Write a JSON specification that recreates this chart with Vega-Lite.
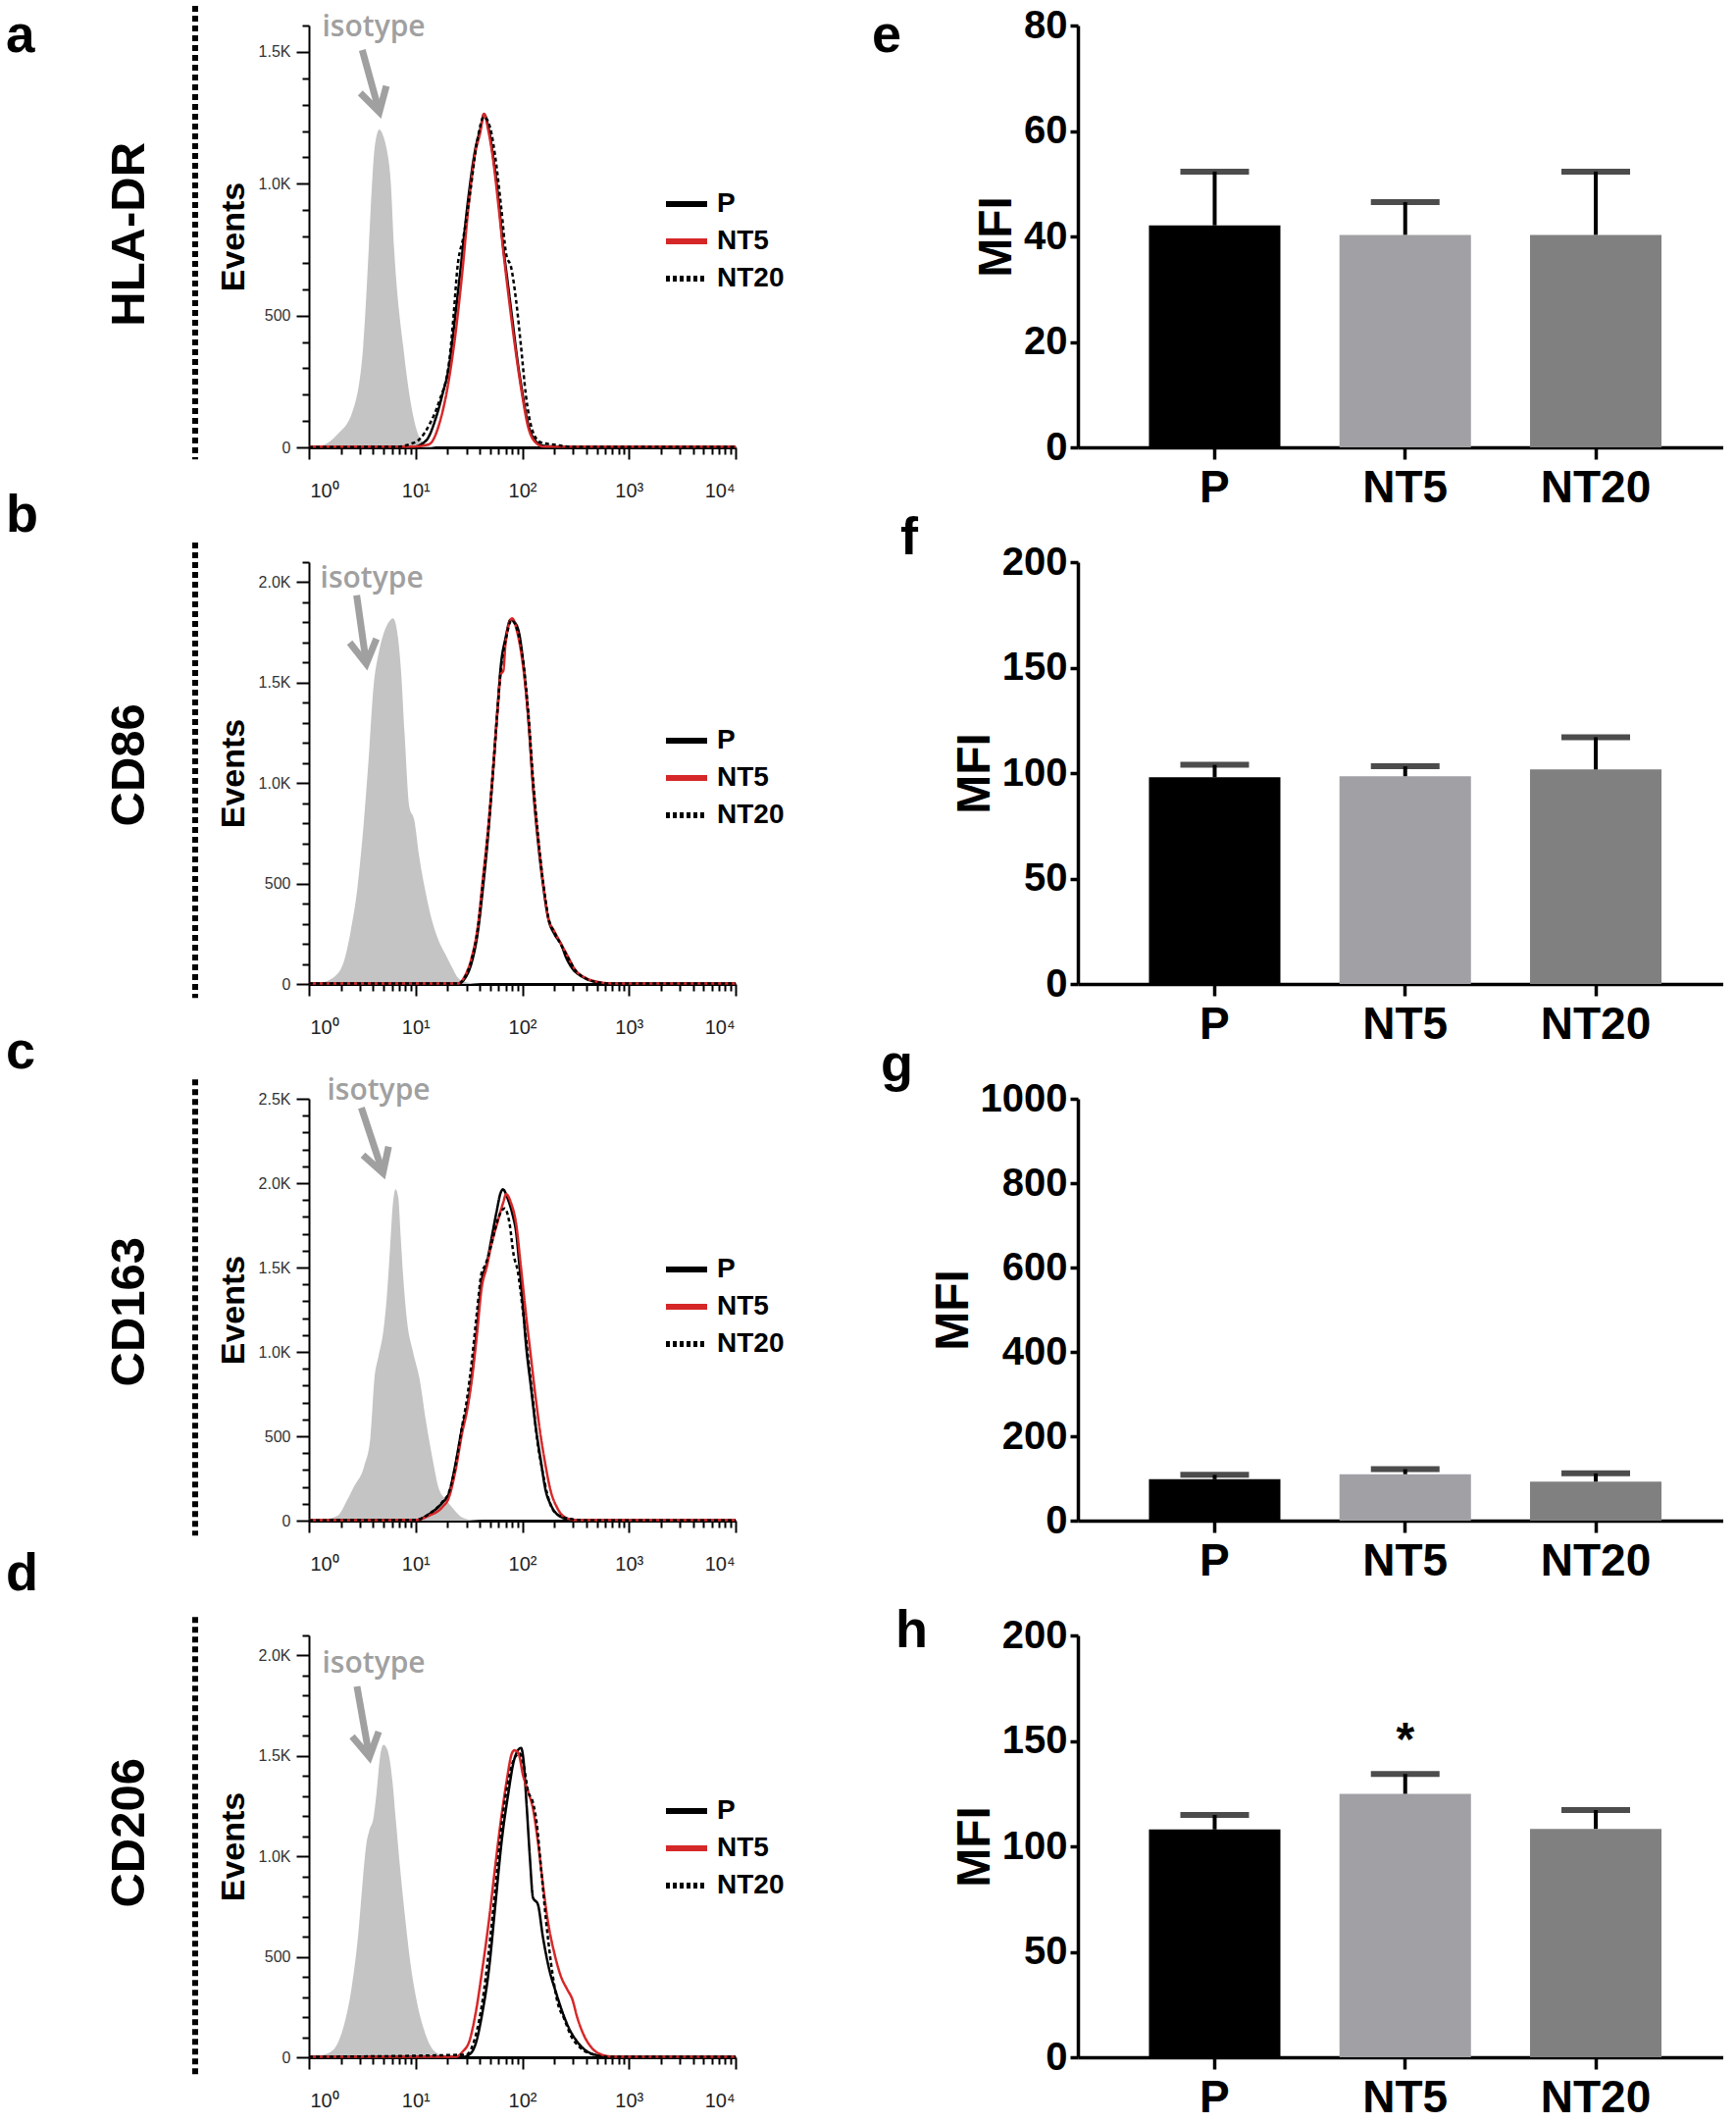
{
"$schema": "https://vega.github.io/schema/vega-lite/v6.json",
"padding": {"left": 5, "top": 3, "right": 0, "bottom": 0},
"background": "white",
"config": {"view": {"stroke": null}, "axis": {"grid": false}},
"datasets": {
"ha": [
{"series":"isotype","fl":1,"ev":0},{"series":"isotype","fl":1.31,"ev":6},{"series":"isotype","fl":1.86,"ev":50},{"series":"isotype","fl":2.56,"ev":136},{"series":"isotype","fl":3.23,"ev":385},{"series":"isotype","fl":3.64,"ev":757},{"series":"isotype","fl":3.91,"ev":1005},{"series":"isotype","fl":4.11,"ev":1129},{"series":"isotype","fl":4.57,"ev":1206},{"series":"isotype","fl":5.0,"ev":1179},{"series":"isotype","fl":5.37,"ev":1129},{"series":"isotype","fl":5.85,"ev":1005},{"series":"isotype","fl":6.28,"ev":757},{"series":"isotype","fl":7.03,"ev":509},{"series":"isotype","fl":7.64,"ev":385},{"series":"isotype","fl":8.32,"ev":261},{"series":"isotype","fl":9.31,"ev":136},{"series":"isotype","fl":10.9,"ev":37},{"series":"isotype","fl":12.5,"ev":12},{"series":"isotype","fl":15.5,"ev":0},
{"series":"P","fl":1,"ev":2},{"series":"P","fl":9.45,"ev":2},{"series":"P","fl":12.5,"ev":25},{"series":"P","fl":15.5,"ev":112},{"series":"P","fl":17.8,"ev":199},{"series":"P","fl":20.6,"ev":310},{"series":"P","fl":23.7,"ev":509},{"series":"P","fl":27.3,"ev":732},{"series":"P","fl":31.4,"ev":955},{"series":"P","fl":36.2,"ev":1129},{"series":"P","fl":40.2,"ev":1203},{"series":"P","fl":43.8,"ev":1263},{"series":"P","fl":48,"ev":1216},{"series":"P","fl":53.3,"ev":1104},{"series":"P","fl":59.3,"ev":955},{"series":"P","fl":65.9,"ev":769},{"series":"P","fl":73.3,"ev":620},{"series":"P","fl":81.5,"ev":471},{"series":"P","fl":90.6,"ev":323},{"series":"P","fl":101,"ev":199},{"series":"P","fl":112,"ev":99},{"series":"P","fl":129,"ev":31},{"series":"P","fl":159,"ev":6},{"series":"P","fl":261,"ev":2},{"series":"P","fl":10000,"ev":2},
{"series":"NT5","fl":1,"ev":3},{"series":"NT5","fl":9.45,"ev":3},{"series":"NT5","fl":13.4,"ev":12},{"series":"NT5","fl":16.6,"ev":87},{"series":"NT5","fl":20.6,"ev":261},{"series":"NT5","fl":23.7,"ev":434},{"series":"NT5","fl":27.3,"ev":658},{"series":"NT5","fl":31.4,"ev":918},{"series":"NT5","fl":36.2,"ev":1117},{"series":"NT5","fl":40.2,"ev":1191},{"series":"NT5","fl":43.8,"ev":1265},{"series":"NT5","fl":48,"ev":1203},{"series":"NT5","fl":53.3,"ev":1092},{"series":"NT5","fl":59.3,"ev":931},{"series":"NT5","fl":65.9,"ev":757},{"series":"NT5","fl":73.3,"ev":596},{"series":"NT5","fl":81.5,"ev":447},{"series":"NT5","fl":90.6,"ev":310},{"series":"NT5","fl":101,"ev":186},{"series":"NT5","fl":112,"ev":87},{"series":"NT5","fl":129,"ev":25},{"series":"NT5","fl":159,"ev":3},{"series":"NT5","fl":10000,"ev":3},
{"series":"NT20","fl":1,"ev":1},{"series":"NT20","fl":6.64,"ev":2},{"series":"NT20","fl":8.81,"ev":12},{"series":"NT20","fl":10.9,"ev":31},{"series":"NT20","fl":13.5,"ev":87},{"series":"NT20","fl":16.6,"ev":174},{"series":"NT20","fl":20.6,"ev":323},{"series":"NT20","fl":22.8,"ev":509},{"series":"NT20","fl":24.5,"ev":670},{"series":"NT20","fl":28.3,"ev":806},{"series":"NT20","fl":32.5,"ev":968},{"series":"NT20","fl":37.5,"ev":1154},{"series":"NT20","fl":43.8,"ev":1253},{"series":"NT20","fl":49.7,"ev":1216},{"series":"NT20","fl":57.3,"ev":1067},{"series":"NT20","fl":63.6,"ev":906},{"series":"NT20","fl":70.7,"ev":732},{"series":"NT20","fl":78.7,"ev":682},{"series":"NT20","fl":87.5,"ev":558},{"series":"NT20","fl":97.2,"ev":385},{"series":"NT20","fl":108,"ev":199},{"series":"NT20","fl":125,"ev":62},{"series":"NT20","fl":149,"ev":19},{"series":"NT20","fl":211,"ev":9},{"series":"NT20","fl":281,"ev":2},{"series":"NT20","fl":10000,"ev":2}
],
"hb": [
{"series":"isotype","fl":1,"ev":0},{"series":"isotype","fl":1.22,"ev":3},{"series":"isotype","fl":1.73,"ev":36},{"series":"isotype","fl":2.14,"ev":117},{"series":"isotype","fl":2.46,"ev":263},{"series":"isotype","fl":2.84,"ev":474},{"series":"isotype","fl":3.26,"ev":799},{"series":"isotype","fl":3.63,"ev":1123},{"series":"isotype","fl":4.03,"ev":1480},{"series":"isotype","fl":4.48,"ev":1642},{"series":"isotype","fl":4.98,"ev":1740},{"series":"isotype","fl":5.53,"ev":1797},{"series":"isotype","fl":6.15,"ev":1821},{"series":"isotype","fl":6.84,"ev":1724},{"series":"isotype","fl":7.33,"ev":1545},{"series":"isotype","fl":7.87,"ev":1253},{"series":"isotype","fl":8.75,"ev":880},{"series":"isotype","fl":9.72,"ev":815},{"series":"isotype","fl":10.8,"ev":636},{"series":"isotype","fl":12.4,"ev":458},{"series":"isotype","fl":14.3,"ev":312},{"series":"isotype","fl":16.5,"ev":214},{"series":"isotype","fl":19,"ev":149},{"series":"isotype","fl":21.9,"ev":84},{"series":"isotype","fl":25.2,"ev":28},{"series":"isotype","fl":31.1,"ev":6},{"series":"isotype","fl":41.2,"ev":0},
{"series":"P","fl":1,"ev":2},{"series":"P","fl":25.2,"ev":2},{"series":"P","fl":29,"ev":28},{"series":"P","fl":33.3,"ev":101},{"series":"P","fl":38.4,"ev":263},{"series":"P","fl":42.7,"ev":474},{"series":"P","fl":47.4,"ev":717},{"series":"P","fl":52.7,"ev":1026},{"series":"P","fl":58.6,"ev":1367},{"series":"P","fl":62.8,"ev":1578},{"series":"P","fl":69.8,"ev":1724},{"series":"P","fl":77.6,"ev":1813},{"series":"P","fl":83.2,"ev":1805},{"series":"P","fl":92.5,"ev":1756},{"series":"P","fl":103,"ev":1578},{"series":"P","fl":114,"ev":1318},{"series":"P","fl":127,"ev":961},{"series":"P","fl":141,"ev":701},{"series":"P","fl":157,"ev":490},{"series":"P","fl":175,"ev":328},{"series":"P","fl":201,"ev":247},{"series":"P","fl":231,"ev":198},{"series":"P","fl":257,"ev":133},{"series":"P","fl":296,"ev":76},{"series":"P","fl":366,"ev":36},{"series":"P","fl":485,"ev":11},{"series":"P","fl":689,"ev":2},{"series":"P","fl":10000,"ev":2},
{"series":"NT5","fl":1,"ev":3},{"series":"NT5","fl":25.2,"ev":3},{"series":"NT5","fl":29,"ev":40},{"series":"NT5","fl":33.3,"ev":125},{"series":"NT5","fl":38.4,"ev":290},{"series":"NT5","fl":42.7,"ev":520},{"series":"NT5","fl":47.4,"ev":750},{"series":"NT5","fl":52.7,"ev":1040},{"series":"NT5","fl":58.6,"ev":1360},{"series":"NT5","fl":62.8,"ev":1540},{"series":"NT5","fl":66.5,"ev":1560},{"series":"NT5","fl":69.8,"ev":1700},{"series":"NT5","fl":80.3,"ev":1820},{"series":"NT5","fl":88.9,"ev":1760},{"series":"NT5","fl":103,"ev":1560},{"series":"NT5","fl":114,"ev":1330},{"series":"NT5","fl":127,"ev":980},{"series":"NT5","fl":141,"ev":720},{"series":"NT5","fl":157,"ev":500},{"series":"NT5","fl":175,"ev":330},{"series":"NT5","fl":201,"ev":260},{"series":"NT5","fl":231,"ev":200},{"series":"NT5","fl":266,"ev":140},{"series":"NT5","fl":314,"ev":70},{"series":"NT5","fl":393,"ev":30},{"series":"NT5","fl":520,"ev":10},{"series":"NT5","fl":689,"ev":3},{"series":"NT5","fl":10000,"ev":3},
{"series":"NT20","fl":1,"ev":2},{"series":"NT20","fl":25.2,"ev":3},{"series":"NT20","fl":29,"ev":35},{"series":"NT20","fl":33.3,"ev":115},{"series":"NT20","fl":38.4,"ev":280},{"series":"NT20","fl":42.7,"ev":500},{"series":"NT20","fl":47.4,"ev":735},{"series":"NT20","fl":52.7,"ev":1035},{"series":"NT20","fl":58.6,"ev":1365},{"series":"NT20","fl":62.8,"ev":1560},{"series":"NT20","fl":69.8,"ev":1710},{"series":"NT20","fl":79.2,"ev":1810},{"series":"NT20","fl":88.9,"ev":1770},{"series":"NT20","fl":103,"ev":1590},{"series":"NT20","fl":114,"ev":1350},{"series":"NT20","fl":127,"ev":1000},{"series":"NT20","fl":141,"ev":730},{"series":"NT20","fl":157,"ev":505},{"series":"NT20","fl":175,"ev":335},{"series":"NT20","fl":201,"ev":255},{"series":"NT20","fl":231,"ev":195},{"series":"NT20","fl":266,"ev":135},{"series":"NT20","fl":314,"ev":68},{"series":"NT20","fl":393,"ev":28},{"series":"NT20","fl":520,"ev":8},{"series":"NT20","fl":689,"ev":2},{"series":"NT20","fl":10000,"ev":2}
],
"hc": [
{"series":"isotype","fl":1,"ev":0},{"series":"isotype","fl":1.31,"ev":4},{"series":"isotype","fl":1.86,"ev":29},{"series":"isotype","fl":2.3,"ev":126},{"series":"isotype","fl":2.65,"ev":203},{"series":"isotype","fl":3.28,"ev":319},{"series":"isotype","fl":3.77,"ev":493},{"series":"isotype","fl":4.11,"ev":841},{"series":"isotype","fl":4.5,"ev":977},{"series":"isotype","fl":5.0,"ev":1131},{"series":"isotype","fl":5.37,"ev":1325},{"series":"isotype","fl":5.76,"ev":1615},{"series":"isotype","fl":6.1,"ev":1866},{"series":"isotype","fl":6.5,"ev":1963},{"series":"isotype","fl":6.88,"ev":1915},{"series":"isotype","fl":7.22,"ev":1700},{"series":"isotype","fl":7.64,"ev":1450},{"series":"isotype","fl":8.32,"ev":1180},{"series":"isotype","fl":9.45,"ev":1000},{"series":"isotype","fl":10.9,"ev":840},{"series":"isotype","fl":12.5,"ev":590},{"series":"isotype","fl":14.5,"ev":358},{"series":"isotype","fl":16.6,"ev":184},{"series":"isotype","fl":19.2,"ev":126},{"series":"isotype","fl":22.1,"ev":77},{"series":"isotype","fl":27.3,"ev":19},{"series":"isotype","fl":33.7,"ev":4},{"series":"isotype","fl":44.7,"ev":0},
{"series":"P","fl":1,"ev":2},{"series":"P","fl":10.1,"ev":4},{"series":"P","fl":13.4,"ev":39},{"series":"P","fl":17.8,"ev":106},{"series":"P","fl":20.6,"ev":164},{"series":"P","fl":23.7,"ev":338},{"series":"P","fl":27.3,"ev":551},{"series":"P","fl":30.3,"ev":667},{"series":"P","fl":33.7,"ev":861},{"series":"P","fl":37.5,"ev":1132},{"series":"P","fl":41.6,"ev":1422},{"series":"P","fl":46.3,"ev":1518},{"series":"P","fl":51.5,"ev":1673},{"series":"P","fl":57.3,"ev":1828},{"series":"P","fl":62.8,"ev":1944},{"series":"P","fl":65.9,"ev":1963},{"series":"P","fl":73.3,"ev":1905},{"series":"P","fl":81.5,"ev":1808},{"series":"P","fl":87.5,"ev":1712},{"series":"P","fl":93.8,"ev":1518},{"series":"P","fl":101,"ev":1286},{"series":"P","fl":108,"ev":1054},{"series":"P","fl":120,"ev":803},{"series":"P","fl":134,"ev":551},{"series":"P","fl":149,"ev":358},{"series":"P","fl":165,"ev":184},{"series":"P","fl":184,"ev":97},{"series":"P","fl":211,"ev":39},{"series":"P","fl":261,"ev":10},{"series":"P","fl":323,"ev":2},{"series":"P","fl":10000,"ev":2},
{"series":"NT5","fl":1,"ev":3},{"series":"NT5","fl":10.1,"ev":4},{"series":"NT5","fl":13.4,"ev":30},{"series":"NT5","fl":17.8,"ev":80},{"series":"NT5","fl":20.6,"ev":140},{"series":"NT5","fl":23.7,"ev":300},{"series":"NT5","fl":27.3,"ev":520},{"series":"NT5","fl":30.3,"ev":650},{"series":"NT5","fl":33.7,"ev":840},{"series":"NT5","fl":37.5,"ev":1100},{"series":"NT5","fl":41.6,"ev":1380},{"series":"NT5","fl":46.3,"ev":1500},{"series":"NT5","fl":51.5,"ev":1640},{"series":"NT5","fl":59.3,"ev":1780},{"series":"NT5","fl":65.9,"ev":1880},{"series":"NT5","fl":70.7,"ev":1934},{"series":"NT5","fl":78.7,"ev":1880},{"series":"NT5","fl":87.5,"ev":1760},{"series":"NT5","fl":97.2,"ev":1500},{"series":"NT5","fl":108,"ev":1230},{"series":"NT5","fl":120,"ev":980},{"series":"NT5","fl":134,"ev":720},{"series":"NT5","fl":149,"ev":500},{"series":"NT5","fl":165,"ev":330},{"series":"NT5","fl":184,"ev":180},{"series":"NT5","fl":211,"ev":80},{"series":"NT5","fl":251,"ev":20},{"series":"NT5","fl":323,"ev":3},{"series":"NT5","fl":10000,"ev":3},
{"series":"NT20","fl":1,"ev":2},{"series":"NT20","fl":10.1,"ev":4},{"series":"NT20","fl":13.4,"ev":40},{"series":"NT20","fl":17.8,"ev":110},{"series":"NT20","fl":20.6,"ev":170},{"series":"NT20","fl":23.7,"ev":330},{"series":"NT20","fl":27.3,"ev":560},{"series":"NT20","fl":30.3,"ev":720},{"series":"NT20","fl":33.7,"ev":950},{"series":"NT20","fl":37.5,"ev":1230},{"series":"NT20","fl":41.6,"ev":1470},{"series":"NT20","fl":44.7,"ev":1510},{"series":"NT20","fl":51.5,"ev":1640},{"series":"NT20","fl":59.3,"ev":1790},{"series":"NT20","fl":68.5,"ev":1850},{"series":"NT20","fl":76,"ev":1760},{"series":"NT20","fl":83,"ev":1575},{"series":"NT20","fl":90.6,"ev":1480},{"series":"NT20","fl":101,"ev":1250},{"series":"NT20","fl":112,"ev":1000},{"series":"NT20","fl":124,"ev":750},{"series":"NT20","fl":138,"ev":480},{"series":"NT20","fl":154,"ev":300},{"series":"NT20","fl":171,"ev":160},{"series":"NT20","fl":196,"ev":60},{"series":"NT20","fl":242,"ev":20},{"series":"NT20","fl":300,"ev":8},{"series":"NT20","fl":372,"ev":2},{"series":"NT20","fl":10000,"ev":2}
],
"hd": [
{"series":"isotype","fl":1,"ev":0},{"series":"isotype","fl":1.15,"ev":5},{"series":"isotype","fl":1.53,"ev":21},{"series":"isotype","fl":1.89,"ev":78},{"series":"isotype","fl":2.17,"ev":176},{"series":"isotype","fl":2.5,"ev":339},{"series":"isotype","fl":2.88,"ev":599},{"series":"isotype","fl":3.21,"ev":893},{"series":"isotype","fl":3.44,"ev":1055},{"series":"isotype","fl":3.69,"ev":1130},{"series":"isotype","fl":4.02,"ev":1190},{"series":"isotype","fl":4.31,"ev":1320},{"series":"isotype","fl":4.63,"ev":1490},{"series":"isotype","fl":5.0,"ev":1555},{"series":"isotype","fl":5.45,"ev":1530},{"series":"isotype","fl":6.05,"ev":1380},{"series":"isotype","fl":6.5,"ev":1190},{"series":"isotype","fl":7.22,"ev":920},{"series":"isotype","fl":8.03,"ev":680},{"series":"isotype","fl":8.93,"ev":470},{"series":"isotype","fl":10.3,"ev":274},{"series":"isotype","fl":11.9,"ev":143},{"series":"isotype","fl":13.6,"ev":62},{"series":"isotype","fl":16.9,"ev":13},{"series":"isotype","fl":20.8,"ev":2},{"series":"isotype","fl":25,"ev":0},
{"series":"P","fl":1,"ev":2},{"series":"P","fl":27.7,"ev":2},{"series":"P","fl":31.8,"ev":13},{"series":"P","fl":36.7,"ev":70},{"series":"P","fl":42.2,"ev":220},{"series":"P","fl":48.7,"ev":437},{"series":"P","fl":56,"ev":762},{"series":"P","fl":64.5,"ev":1088},{"series":"P","fl":74.3,"ev":1320},{"series":"P","fl":82.6,"ev":1466},{"series":"P","fl":91.8,"ev":1531},{"series":"P","fl":97.2,"ev":1540},{"series":"P","fl":102,"ev":1494},{"series":"P","fl":110,"ev":1250},{"series":"P","fl":118,"ev":990},{"series":"P","fl":126,"ev":795},{"series":"P","fl":140,"ev":762},{"series":"P","fl":156,"ev":600},{"series":"P","fl":179,"ev":437},{"series":"P","fl":207,"ev":323},{"series":"P","fl":238,"ev":225},{"series":"P","fl":275,"ev":143},{"series":"P","fl":327,"ev":78},{"series":"P","fl":405,"ev":29},{"series":"P","fl":535,"ev":8},{"series":"P","fl":706,"ev":2},{"series":"P","fl":10000,"ev":2},
{"series":"NT5","fl":1,"ev":3},{"series":"NT5","fl":24,"ev":3},{"series":"NT5","fl":27.7,"ev":29},{"series":"NT5","fl":31.8,"ev":78},{"series":"NT5","fl":36.7,"ev":225},{"series":"NT5","fl":42.2,"ev":437},{"series":"NT5","fl":48.7,"ev":681},{"series":"NT5","fl":56,"ev":958},{"series":"NT5","fl":64.5,"ev":1218},{"series":"NT5","fl":71.7,"ev":1381},{"series":"NT5","fl":79.7,"ev":1511},{"series":"NT5","fl":84.4,"ev":1528},{"series":"NT5","fl":91.8,"ev":1515},{"series":"NT5","fl":102,"ev":1401},{"series":"NT5","fl":114,"ev":1319},{"series":"NT5","fl":126,"ev":1238},{"series":"NT5","fl":140,"ev":1075},{"series":"NT5","fl":156,"ev":863},{"series":"NT5","fl":173,"ev":684},{"series":"NT5","fl":200,"ev":518},{"series":"NT5","fl":230,"ev":404},{"series":"NT5","fl":265,"ev":336},{"series":"NT5","fl":294,"ev":290},{"series":"NT5","fl":327,"ev":200},{"series":"NT5","fl":377,"ev":111},{"series":"NT5","fl":450,"ev":46},{"series":"NT5","fl":556,"ev":13},{"series":"NT5","fl":706,"ev":3},{"series":"NT5","fl":10000,"ev":3},
{"series":"NT20","fl":1,"ev":2},{"series":"NT20","fl":29.7,"ev":13},{"series":"NT20","fl":36.7,"ev":111},{"series":"NT20","fl":42.2,"ev":274},{"series":"NT20","fl":48.7,"ev":534},{"series":"NT20","fl":56,"ev":844},{"series":"NT20","fl":64.5,"ev":1170},{"series":"NT20","fl":74.3,"ev":1381},{"series":"NT20","fl":85.6,"ev":1495},{"series":"NT20","fl":95.2,"ev":1512},{"series":"NT20","fl":102,"ev":1466},{"series":"NT20","fl":114,"ev":1319},{"series":"NT20","fl":124,"ev":1280},{"series":"NT20","fl":136,"ev":1173},{"series":"NT20","fl":151,"ev":925},{"series":"NT20","fl":167,"ev":681},{"series":"NT20","fl":186,"ev":469},{"series":"NT20","fl":214,"ev":274},{"series":"NT20","fl":247,"ev":192},{"series":"NT20","fl":284,"ev":111},{"series":"NT20","fl":352,"ev":46},{"series":"NT20","fl":467,"ev":13},{"series":"NT20","fl":618,"ev":2},{"series":"NT20","fl":10000,"ev":2}
]
},
"columns": 2,
"bounds": "flush",
"spacing": {"row": 117, "column": 349},
"resolve": {
  "scale": {"x": "independent", "y": "independent", "color": "independent", "strokeDash": "independent"},
  "axis": {"x": "independent", "y": "independent"},
  "legend": {"color": "independent", "strokeDash": "independent"}
},
"concat": [
{
 "width": 435, "height": 430,
 "data": {"name": "ha"},
 "resolve": {"axis": {"x": "independent", "y": "independent"}},
 "layer": [
  {"transform": [{"filter": "datum.series === 'isotype'"}],
   "mark": {"type": "area", "color": "#c4c4c4", "interpolate": "monotone"},
   "encoding": {
    "x": {"field": "fl", "type": "quantitative", "scale": {"type": "log", "domain": [1, 10000], "nice": false}, "axis": {"orient": "bottom", "values": [2,3,4,5,6,7,8,9,20,30,40,50,60,70,80,90,200,300,400,500,600,700,800,900,2000,3000,4000,5000,6000,7000,8000,9000], "tickSize": 7, "tickWidth": 2, "tickColor": "black", "labels": false, "domain": false, "title": null, "grid": false}},
    "y": {"field": "ev", "type": "quantitative", "scale": {"domain": [0, 1600], "nice": false}, "axis": {"orient": "left", "values": [100,200,300,400,600,700,800,900,1100,1200,1300,1400,1600], "tickSize": 7, "tickWidth": 2, "tickColor": "black", "labels": false, "domain": false, "title": null, "grid": false}}
   }},
  {"transform": [{"filter": "datum.series !== 'isotype'"}],
   "mark": {"type": "line", "strokeWidth": 2.5, "interpolate": "monotone"},
   "encoding": {
    "x": {"field": "fl", "type": "quantitative", "scale": {"type": "log", "domain": [1, 10000], "nice": false}, "axis": {"orient": "bottom", "values": [1,10,100,1000,10000], "tickSize": 12, "tickWidth": 2, "tickColor": "black", "domainColor": "black", "domainWidth": 3, "labelExpr": "'10' + ['\u2070','\u00b9','\u00b2','\u00b3','\u2074'][round(log(datum.value)/LN10)]", "labelBaseline": "top", "labelPadding": 22, "labelFont": "Liberation Sans", "labelFontSize": 20, "labelColor": "#222", "labelFlush": true, "labelFlushOffset": -1, "labelOverlap": false, "labelBound": false, "title": null, "grid": false}},
    "y": {"field": "ev", "type": "quantitative", "scale": {"domain": [0, 1600], "nice": false}, "axis": {"orient": "left", "values": [0,500,1000,1500], "tickSize": 13, "tickWidth": 2, "tickColor": "black", "domainColor": "black", "domainWidth": 2, "labelExpr": "datum.value >= 1000 ? format(datum.value/1000, '.1f') + 'K' : datum.label", "labelFont": "Liberation Sans", "labelFontSize": 16, "labelColor": "#333", "labelPadding": 6, "title": "Events", "titleFont": "Liberation Sans", "titleFontSize": 34, "titleFontWeight": "bold", "titleColor": "black", "titlePadding": 8, "grid": false}},
    "color": {"field": "series", "type": "nominal", "scale": {"domain": ["P","NT5","NT20"], "range": ["#000000","#d62728","#000000"]}, "legend": {"orient": "none", "legendX": 361, "legendY": 158, "title": null, "symbolType": "stroke", "symbolStrokeWidth": 6, "symbolSize": 1764, "labelFont": "Liberation Sans", "labelFontWeight": "bold", "labelFontSize": 28, "labelColor": "black", "labelOffset": 7, "rowPadding": -7, "padding": 0}},
    "strokeDash": {"field": "series", "type": "nominal", "scale": {"domain": ["P","NT5","NT20"], "range": [[1,0],[1,0],[4,3]]}, "legend": {"orient": "none", "legendX": 361, "legendY": 158, "title": null, "symbolType": "stroke", "symbolStrokeWidth": 6, "symbolSize": 1764, "labelFont": "Liberation Sans", "labelFontWeight": "bold", "labelFontSize": 28, "labelColor": "black", "labelOffset": 7, "rowPadding": -7, "padding": 0}}
   }},
  {"data": {"values": [{}]}, "mark": {"type": "text", "text": "a", "align": "left", "baseline": "alphabetic", "font": "Liberation Sans", "fontSize": 53, "fontWeight": "bold", "color": "black"},
   "encoding": {"x": {"datum": 0.00144, "type": "quantitative", "axis": null}, "y": {"datum": 1498, "type": "quantitative", "axis": null}}},
  {"data": {"values": [{}]}, "mark": {"type": "text", "text": "e", "align": "left", "baseline": "alphabetic", "font": "Liberation Sans", "fontSize": 54, "fontWeight": "bold", "color": "black"},
   "encoding": {"x": {"datum": 189700, "type": "quantitative", "axis": null}, "y": {"datum": 1500, "type": "quantitative", "axis": null}}},
  {"data": {"values": [{}]}, "mark": {"type": "text", "text": "HLA-DR", "align": "center", "baseline": "middle", "angle": 270, "font": "Liberation Sans", "fontSize": 49, "fontWeight": "bold", "color": "black"},
   "encoding": {"x": {"datum": 0.02075, "type": "quantitative", "axis": null}, "y": {"datum": 808, "type": "quantitative", "axis": null}}},
  {"data": {"values": [{}]}, "mark": {"type": "rule", "strokeWidth": 6, "strokeDash": [6, 4], "color": "black"},
   "encoding": {"x": {"datum": 0.0858, "type": "quantitative", "axis": null}, "y": {"datum": 1674, "type": "quantitative", "axis": null}, "y2": {"datum": -46}}},
  {"data": {"values": [{}]}, "mark": {"type": "text", "text": "isotype", "align": "center", "baseline": "middle", "font": "Open Sans", "fontSize": 30, "fontWeight": 600, "color": "#a0a0a0"},
   "encoding": {"x": {"datum": 4.05, "type": "quantitative", "axis": null}, "y": {"datum": 1594, "type": "quantitative", "axis": null}}},
  {"data": {"values": [{}]}, "mark": {"type": "rule", "strokeWidth": 7, "color": "#a0a0a0"},
   "encoding": {"x": {"datum": 3.16, "type": "quantitative", "axis": null}, "y": {"datum": 1507, "type": "quantitative", "axis": null}, "x2": {"datum": 4.57}, "y2": {"datum": 1272}}},
  {"data": {"values": [{}]}, "mark": {"type": "point", "shape": "M-0.55,-0.95L0,0L0.55,-0.95", "filled": false, "stroke": "#a0a0a0", "strokeWidth": 7, "size": 2500, "angle": -15, "opacity": 1},
   "encoding": {"x": {"datum": 4.57, "type": "quantitative", "axis": null}, "y": {"datum": 1272, "type": "quantitative", "axis": null}}}
 ]
},
{
 "width": 658, "height": 430,
 "data": {"values": [{"group":"P","mfi":42.1,"upper":52.3},{"group":"NT5","mfi":40.3,"upper":46.5},{"group":"NT20","mfi":40.3,"upper":52.3}]},
 "layer": [
  {"mark": {"type": "bar"},
   "encoding": {
    "x": {"field": "group", "type": "nominal", "sort": ["P","NT5","NT20"], "scale": {"domain": ["P","NT5","NT20"], "paddingInner": 0.31, "paddingOuter": 0.3485, "align": 0.535}, "axis": {"orient": "bottom", "title": null, "labelAngle": 0, "domainWidth": 3.5, "domainColor": "black", "tickSize": 12, "tickWidth": 3.5, "tickColor": "black", "labelFont": "Liberation Sans", "labelFontWeight": "bold", "labelFontSize": 46, "labelColor": "black", "labelPadding": 7}},
    "y": {"field": "mfi", "type": "quantitative", "scale": {"domain": [0, 80], "nice": false}, "axis": {"values": [0,20,40,60,80], "format": "d", "title": "MFI", "titleFont": "Liberation Sans", "titleFontWeight": "bold", "titleFontSize": 48, "titleColor": "black", "titlePadding": 3, "domainWidth": 3.5, "domainColor": "black", "tickSize": 8, "tickWidth": 3.5, "tickColor": "black", "labelFont": "Liberation Sans", "labelFontWeight": "bold", "labelFontSize": 40, "labelColor": "black", "labelPadding": 3, "grid": false}},
    "color": {"field": "group", "type": "nominal", "scale": {"domain": ["P","NT5","NT20"], "range": ["#000000","#a1a1a5","#808080"]}, "legend": null}
   }},
  {"mark": {"type": "rule", "strokeWidth": 4, "color": "black"},
   "encoding": {"x": {"field": "group", "type": "nominal"}, "y": {"field": "mfi", "type": "quantitative"}, "y2": {"field": "upper"}}},
  {"mark": {"type": "tick", "orient": "horizontal", "size": 70, "thickness": 6, "color": "black"},
   "encoding": {"x": {"field": "group", "type": "nominal"}, "y": {"field": "upper", "type": "quantitative"}}}
 ]
},
{
 "width": 435, "height": 430,
 "data": {"name": "hb"},
 "resolve": {"axis": {"x": "independent", "y": "independent"}},
 "layer": [
  {"transform": [{"filter": "datum.series === 'isotype'"}],
   "mark": {"type": "area", "color": "#c4c4c4", "interpolate": "monotone"},
   "encoding": {
    "x": {"field": "fl", "type": "quantitative", "scale": {"type": "log", "domain": [1, 10000], "nice": false}, "axis": {"orient": "bottom", "values": [2,3,4,5,6,7,8,9,20,30,40,50,60,70,80,90,200,300,400,500,600,700,800,900,2000,3000,4000,5000,6000,7000,8000,9000], "tickSize": 7, "tickWidth": 2, "tickColor": "black", "labels": false, "domain": false, "title": null, "grid": false}},
    "y": {"field": "ev", "type": "quantitative", "scale": {"domain": [0, 2100], "nice": false}, "axis": {"orient": "left", "values": [100,200,300,400,600,700,800,900,1100,1200,1300,1400,1600,1700,1800,1900,2100], "tickSize": 7, "tickWidth": 2, "tickColor": "black", "labels": false, "domain": false, "title": null, "grid": false}}
   }},
  {"transform": [{"filter": "datum.series !== 'isotype'"}],
   "mark": {"type": "line", "strokeWidth": 2.5, "interpolate": "monotone"},
   "encoding": {
    "x": {"field": "fl", "type": "quantitative", "scale": {"type": "log", "domain": [1, 10000], "nice": false}, "axis": {"orient": "bottom", "values": [1,10,100,1000,10000], "tickSize": 12, "tickWidth": 2, "tickColor": "black", "domainColor": "black", "domainWidth": 3, "labelExpr": "'10' + ['\u2070','\u00b9','\u00b2','\u00b3','\u2074'][round(log(datum.value)/LN10)]", "labelBaseline": "top", "labelPadding": 22, "labelFont": "Liberation Sans", "labelFontSize": 20, "labelColor": "#222", "labelFlush": true, "labelFlushOffset": -1, "labelOverlap": false, "labelBound": false, "title": null, "grid": false}},
    "y": {"field": "ev", "type": "quantitative", "scale": {"domain": [0, 2100], "nice": false}, "axis": {"orient": "left", "values": [0,500,1000,1500,2000], "tickSize": 13, "tickWidth": 2, "tickColor": "black", "domainColor": "black", "domainWidth": 2, "labelExpr": "datum.value >= 1000 ? format(datum.value/1000, '.1f') + 'K' : datum.label", "labelFont": "Liberation Sans", "labelFontSize": 16, "labelColor": "#333", "labelPadding": 6, "title": "Events", "titleFont": "Liberation Sans", "titleFontSize": 34, "titleFontWeight": "bold", "titleColor": "black", "titlePadding": 8, "grid": false}},
    "color": {"field": "series", "type": "nominal", "scale": {"domain": ["P","NT5","NT20"], "range": ["#000000","#d62728","#000000"]}, "legend": {"orient": "none", "legendX": 361, "legendY": 158, "title": null, "symbolType": "stroke", "symbolStrokeWidth": 6, "symbolSize": 1764, "labelFont": "Liberation Sans", "labelFontWeight": "bold", "labelFontSize": 28, "labelColor": "black", "labelOffset": 7, "rowPadding": -7, "padding": 0}},
    "strokeDash": {"field": "series", "type": "nominal", "scale": {"domain": ["P","NT5","NT20"], "range": [[1,0],[1,0],[4,3]]}, "legend": {"orient": "none", "legendX": 361, "legendY": 158, "title": null, "symbolType": "stroke", "symbolStrokeWidth": 6, "symbolSize": 1764, "labelFont": "Liberation Sans", "labelFontWeight": "bold", "labelFontSize": 28, "labelColor": "black", "labelOffset": 7, "rowPadding": -7, "padding": 0}}
   }},
  {"data": {"values": [{}]}, "mark": {"type": "text", "text": "b", "align": "left", "baseline": "alphabetic", "font": "Liberation Sans", "fontSize": 54, "fontWeight": "bold", "color": "black"},
   "encoding": {"x": {"datum": 0.00144, "type": "quantitative", "axis": null}, "y": {"datum": 2250, "type": "quantitative", "axis": null}}},
  {"data": {"values": [{}]}, "mark": {"type": "text", "text": "f", "align": "left", "baseline": "alphabetic", "font": "Liberation Sans", "fontSize": 54, "fontWeight": "bold", "color": "black"},
   "encoding": {"x": {"datum": 350800, "type": "quantitative", "axis": null}, "y": {"datum": 2138, "type": "quantitative", "axis": null}}},
  {"data": {"values": [{}]}, "mark": {"type": "text", "text": "CD86", "align": "center", "baseline": "middle", "angle": 270, "font": "Liberation Sans", "fontSize": 49, "fontWeight": "bold", "color": "black"},
   "encoding": {"x": {"datum": 0.02075, "type": "quantitative", "axis": null}, "y": {"datum": 1090, "type": "quantitative", "axis": null}}},
  {"data": {"values": [{}]}, "mark": {"type": "rule", "strokeWidth": 6, "strokeDash": [6, 4], "color": "black"},
   "encoding": {"x": {"datum": 0.0858, "type": "quantitative", "axis": null}, "y": {"datum": 2198, "type": "quantitative", "axis": null}, "y2": {"datum": -70}}},
  {"data": {"values": [{}]}, "mark": {"type": "text", "text": "isotype", "align": "center", "baseline": "middle", "font": "Open Sans", "fontSize": 30, "fontWeight": 600, "color": "#a0a0a0"},
   "encoding": {"x": {"datum": 3.89, "type": "quantitative", "axis": null}, "y": {"datum": 2016, "type": "quantitative", "axis": null}}},
  {"data": {"values": [{}]}, "mark": {"type": "rule", "strokeWidth": 7, "color": "#a0a0a0"},
   "encoding": {"x": {"datum": 2.80, "type": "quantitative", "axis": null}, "y": {"datum": 1935, "type": "quantitative", "axis": null}, "x2": {"datum": 3.45}, "y2": {"datum": 1594}}},
  {"data": {"values": [{}]}, "mark": {"type": "point", "shape": "M-0.55,-0.95L0,0L0.55,-0.95", "filled": false, "stroke": "#a0a0a0", "strokeWidth": 7, "size": 2500, "angle": -8, "opacity": 1},
   "encoding": {"x": {"datum": 3.45, "type": "quantitative", "axis": null}, "y": {"datum": 1594, "type": "quantitative", "axis": null}}}
 ]
},
{
 "width": 658, "height": 430,
 "data": {"values": [{"group":"P","mfi":98,"upper":103.9},{"group":"NT5","mfi":98.5,"upper":103.2},{"group":"NT20","mfi":101.7,"upper":117}]},
 "layer": [
  {"mark": {"type": "bar"},
   "encoding": {
    "x": {"field": "group", "type": "nominal", "sort": ["P","NT5","NT20"], "scale": {"domain": ["P","NT5","NT20"], "paddingInner": 0.31, "paddingOuter": 0.3485, "align": 0.535}, "axis": {"orient": "bottom", "title": null, "labelAngle": 0, "domainWidth": 3.5, "domainColor": "black", "tickSize": 12, "tickWidth": 3.5, "tickColor": "black", "labelFont": "Liberation Sans", "labelFontWeight": "bold", "labelFontSize": 46, "labelColor": "black", "labelPadding": 7}},
    "y": {"field": "mfi", "type": "quantitative", "scale": {"domain": [0, 200], "nice": false}, "axis": {"values": [0,50,100,150,200], "format": "d", "title": "MFI", "titleFont": "Liberation Sans", "titleFontWeight": "bold", "titleFontSize": 48, "titleColor": "black", "titlePadding": 3, "domainWidth": 3.5, "domainColor": "black", "tickSize": 8, "tickWidth": 3.5, "tickColor": "black", "labelFont": "Liberation Sans", "labelFontWeight": "bold", "labelFontSize": 40, "labelColor": "black", "labelPadding": 3, "grid": false}},
    "color": {"field": "group", "type": "nominal", "scale": {"domain": ["P","NT5","NT20"], "range": ["#000000","#a1a1a5","#808080"]}, "legend": null}
   }},
  {"mark": {"type": "rule", "strokeWidth": 4, "color": "black"},
   "encoding": {"x": {"field": "group", "type": "nominal"}, "y": {"field": "mfi", "type": "quantitative"}, "y2": {"field": "upper"}}},
  {"mark": {"type": "tick", "orient": "horizontal", "size": 70, "thickness": 6, "color": "black"},
   "encoding": {"x": {"field": "group", "type": "nominal"}, "y": {"field": "upper", "type": "quantitative"}}}
 ]
},
{
 "width": 435, "height": 430,
 "data": {"name": "hc"},
 "resolve": {"axis": {"x": "independent", "y": "independent"}},
 "layer": [
  {"transform": [{"filter": "datum.series === 'isotype'"}],
   "mark": {"type": "area", "color": "#c4c4c4", "interpolate": "monotone"},
   "encoding": {
    "x": {"field": "fl", "type": "quantitative", "scale": {"type": "log", "domain": [1, 10000], "nice": false}, "axis": {"orient": "bottom", "values": [2,3,4,5,6,7,8,9,20,30,40,50,60,70,80,90,200,300,400,500,600,700,800,900,2000,3000,4000,5000,6000,7000,8000,9000], "tickSize": 7, "tickWidth": 2, "tickColor": "black", "labels": false, "domain": false, "title": null, "grid": false}},
    "y": {"field": "ev", "type": "quantitative", "scale": {"domain": [0, 2500], "nice": false}, "axis": {"orient": "left", "values": [100,200,300,400,600,700,800,900,1100,1200,1300,1400,1600,1700,1800,1900,2100,2200,2300,2400], "tickSize": 7, "tickWidth": 2, "tickColor": "black", "labels": false, "domain": false, "title": null, "grid": false}}
   }},
  {"transform": [{"filter": "datum.series !== 'isotype'"}],
   "mark": {"type": "line", "strokeWidth": 2.5, "interpolate": "monotone"},
   "encoding": {
    "x": {"field": "fl", "type": "quantitative", "scale": {"type": "log", "domain": [1, 10000], "nice": false}, "axis": {"orient": "bottom", "values": [1,10,100,1000,10000], "tickSize": 12, "tickWidth": 2, "tickColor": "black", "domainColor": "black", "domainWidth": 3, "labelExpr": "'10' + ['\u2070','\u00b9','\u00b2','\u00b3','\u2074'][round(log(datum.value)/LN10)]", "labelBaseline": "top", "labelPadding": 22, "labelFont": "Liberation Sans", "labelFontSize": 20, "labelColor": "#222", "labelFlush": true, "labelFlushOffset": -1, "labelOverlap": false, "labelBound": false, "title": null, "grid": false}},
    "y": {"field": "ev", "type": "quantitative", "scale": {"domain": [0, 2500], "nice": false}, "axis": {"orient": "left", "values": [0,500,1000,1500,2000,2500], "tickSize": 13, "tickWidth": 2, "tickColor": "black", "domainColor": "black", "domainWidth": 2, "labelExpr": "datum.value >= 1000 ? format(datum.value/1000, '.1f') + 'K' : datum.label", "labelFont": "Liberation Sans", "labelFontSize": 16, "labelColor": "#333", "labelPadding": 6, "title": "Events", "titleFont": "Liberation Sans", "titleFontSize": 34, "titleFontWeight": "bold", "titleColor": "black", "titlePadding": 8, "grid": false}},
    "color": {"field": "series", "type": "nominal", "scale": {"domain": ["P","NT5","NT20"], "range": ["#000000","#d62728","#000000"]}, "legend": {"orient": "none", "legendX": 361, "legendY": 150, "title": null, "symbolType": "stroke", "symbolStrokeWidth": 6, "symbolSize": 1764, "labelFont": "Liberation Sans", "labelFontWeight": "bold", "labelFontSize": 28, "labelColor": "black", "labelOffset": 7, "rowPadding": -7, "padding": 0}},
    "strokeDash": {"field": "series", "type": "nominal", "scale": {"domain": ["P","NT5","NT20"], "range": [[1,0],[1,0],[4,3]]}, "legend": {"orient": "none", "legendX": 361, "legendY": 150, "title": null, "symbolType": "stroke", "symbolStrokeWidth": 6, "symbolSize": 1764, "labelFont": "Liberation Sans", "labelFontWeight": "bold", "labelFontSize": 28, "labelColor": "black", "labelOffset": 7, "rowPadding": -7, "padding": 0}}
   }},
  {"data": {"values": [{}]}, "mark": {"type": "text", "text": "c", "align": "left", "baseline": "alphabetic", "font": "Liberation Sans", "fontSize": 54, "fontWeight": "bold", "color": "black"},
   "encoding": {"x": {"datum": 0.00144, "type": "quantitative", "axis": null}, "y": {"datum": 2678, "type": "quantitative", "axis": null}}},
  {"data": {"values": [{}]}, "mark": {"type": "text", "text": "g", "align": "left", "baseline": "alphabetic", "font": "Liberation Sans", "fontSize": 54, "fontWeight": "bold", "color": "black"},
   "encoding": {"x": {"datum": 229600, "type": "quantitative", "axis": null}, "y": {"datum": 2603, "type": "quantitative", "axis": null}}},
  {"data": {"values": [{}]}, "mark": {"type": "text", "text": "CD163", "align": "center", "baseline": "middle", "angle": 270, "font": "Liberation Sans", "fontSize": 49, "fontWeight": "bold", "color": "black"},
   "encoding": {"x": {"datum": 0.02075, "type": "quantitative", "axis": null}, "y": {"datum": 1237, "type": "quantitative", "axis": null}}},
  {"data": {"values": [{}]}, "mark": {"type": "rule", "strokeWidth": 6, "strokeDash": [6, 4], "color": "black"},
   "encoding": {"x": {"datum": 0.0858, "type": "quantitative", "axis": null}, "y": {"datum": 2615, "type": "quantitative", "axis": null}, "y2": {"datum": -89}}},
  {"data": {"values": [{}]}, "mark": {"type": "text", "text": "isotype", "align": "center", "baseline": "middle", "font": "Open Sans", "fontSize": 30, "fontWeight": 600, "color": "#a0a0a0"},
   "encoding": {"x": {"datum": 4.5, "type": "quantitative", "axis": null}, "y": {"datum": 2547, "type": "quantitative", "axis": null}}},
  {"data": {"values": [{}]}, "mark": {"type": "rule", "strokeWidth": 7, "color": "#a0a0a0"},
   "encoding": {"x": {"datum": 3.10, "type": "quantitative", "axis": null}, "y": {"datum": 2447, "type": "quantitative", "axis": null}, "x2": {"datum": 4.94}, "y2": {"datum": 2060}}},
  {"data": {"values": [{}]}, "mark": {"type": "point", "shape": "M-0.55,-0.95L0,0L0.55,-0.95", "filled": false, "stroke": "#a0a0a0", "strokeWidth": 7, "size": 2500, "angle": -18, "opacity": 1},
   "encoding": {"x": {"datum": 4.94, "type": "quantitative", "axis": null}, "y": {"datum": 2060, "type": "quantitative", "axis": null}}}
 ]
},
{
 "width": 658, "height": 430,
 "data": {"values": [{"group":"P","mfi":98,"upper":108.5},{"group":"NT5","mfi":110,"upper":122},{"group":"NT20","mfi":92.5,"upper":112}]},
 "layer": [
  {"mark": {"type": "bar"},
   "encoding": {
    "x": {"field": "group", "type": "nominal", "sort": ["P","NT5","NT20"], "scale": {"domain": ["P","NT5","NT20"], "paddingInner": 0.31, "paddingOuter": 0.3485, "align": 0.535}, "axis": {"orient": "bottom", "title": null, "labelAngle": 0, "domainWidth": 3.5, "domainColor": "black", "tickSize": 12, "tickWidth": 3.5, "tickColor": "black", "labelFont": "Liberation Sans", "labelFontWeight": "bold", "labelFontSize": 46, "labelColor": "black", "labelPadding": 7}},
    "y": {"field": "mfi", "type": "quantitative", "scale": {"domain": [0, 1000], "nice": false}, "axis": {"values": [0,200,400,600,800,1000], "format": "d", "title": "MFI", "titleFont": "Liberation Sans", "titleFontWeight": "bold", "titleFontSize": 48, "titleColor": "black", "titlePadding": 3, "domainWidth": 3.5, "domainColor": "black", "tickSize": 8, "tickWidth": 3.5, "tickColor": "black", "labelFont": "Liberation Sans", "labelFontWeight": "bold", "labelFontSize": 40, "labelColor": "black", "labelPadding": 3, "grid": false}},
    "color": {"field": "group", "type": "nominal", "scale": {"domain": ["P","NT5","NT20"], "range": ["#000000","#a1a1a5","#808080"]}, "legend": null}
   }},
  {"mark": {"type": "rule", "strokeWidth": 4, "color": "black"},
   "encoding": {"x": {"field": "group", "type": "nominal"}, "y": {"field": "mfi", "type": "quantitative"}, "y2": {"field": "upper"}}},
  {"mark": {"type": "tick", "orient": "horizontal", "size": 70, "thickness": 6, "color": "black"},
   "encoding": {"x": {"field": "group", "type": "nominal"}, "y": {"field": "upper", "type": "quantitative"}}}
 ]
},
{
 "width": 435, "height": 430,
 "data": {"name": "hd"},
 "resolve": {"axis": {"x": "independent", "y": "independent"}},
 "layer": [
  {"transform": [{"filter": "datum.series === 'isotype'"}],
   "mark": {"type": "area", "color": "#c4c4c4", "interpolate": "monotone"},
   "encoding": {
    "x": {"field": "fl", "type": "quantitative", "scale": {"type": "log", "domain": [1, 10000], "nice": false}, "axis": {"orient": "bottom", "values": [2,3,4,5,6,7,8,9,20,30,40,50,60,70,80,90,200,300,400,500,600,700,800,900,2000,3000,4000,5000,6000,7000,8000,9000], "tickSize": 7, "tickWidth": 2, "tickColor": "black", "labels": false, "domain": false, "title": null, "grid": false}},
    "y": {"field": "ev", "type": "quantitative", "scale": {"domain": [0, 2100], "nice": false}, "axis": {"orient": "left", "values": [100,200,300,400,600,700,800,900,1100,1200,1300,1400,1600,1700,1800,1900,2100], "tickSize": 7, "tickWidth": 2, "tickColor": "black", "labels": false, "domain": false, "title": null, "grid": false}}
   }},
  {"transform": [{"filter": "datum.series !== 'isotype'"}],
   "mark": {"type": "line", "strokeWidth": 2.5, "interpolate": "monotone"},
   "encoding": {
    "x": {"field": "fl", "type": "quantitative", "scale": {"type": "log", "domain": [1, 10000], "nice": false}, "axis": {"orient": "bottom", "values": [1,10,100,1000,10000], "tickSize": 12, "tickWidth": 2, "tickColor": "black", "domainColor": "black", "domainWidth": 3, "labelExpr": "'10' + ['\u2070','\u00b9','\u00b2','\u00b3','\u2074'][round(log(datum.value)/LN10)]", "labelBaseline": "top", "labelPadding": 22, "labelFont": "Liberation Sans", "labelFontSize": 20, "labelColor": "#222", "labelFlush": true, "labelFlushOffset": -1, "labelOverlap": false, "labelBound": false, "title": null, "grid": false}},
    "y": {"field": "ev", "type": "quantitative", "scale": {"domain": [0, 2100], "nice": false}, "axis": {"orient": "left", "values": [0,500,1000,1500,2000], "tickSize": 13, "tickWidth": 2, "tickColor": "black", "domainColor": "black", "domainWidth": 2, "labelExpr": "datum.value >= 1000 ? format(datum.value/1000, '.1f') + 'K' : datum.label", "labelFont": "Liberation Sans", "labelFontSize": 16, "labelColor": "#333", "labelPadding": 6, "title": "Events", "titleFont": "Liberation Sans", "titleFontSize": 34, "titleFontWeight": "bold", "titleColor": "black", "titlePadding": 8, "grid": false}},
    "color": {"field": "series", "type": "nominal", "scale": {"domain": ["P","NT5","NT20"], "range": ["#000000","#d62728","#000000"]}, "legend": {"orient": "none", "legendX": 361, "legendY": 155, "title": null, "symbolType": "stroke", "symbolStrokeWidth": 6, "symbolSize": 1764, "labelFont": "Liberation Sans", "labelFontWeight": "bold", "labelFontSize": 28, "labelColor": "black", "labelOffset": 7, "rowPadding": -7, "padding": 0}},
    "strokeDash": {"field": "series", "type": "nominal", "scale": {"domain": ["P","NT5","NT20"], "range": [[1,0],[1,0],[4,3]]}, "legend": {"orient": "none", "legendX": 361, "legendY": 155, "title": null, "symbolType": "stroke", "symbolStrokeWidth": 6, "symbolSize": 1764, "labelFont": "Liberation Sans", "labelFontWeight": "bold", "labelFontSize": 28, "labelColor": "black", "labelOffset": 7, "rowPadding": -7, "padding": 0}}
   }},
  {"data": {"values": [{}]}, "mark": {"type": "text", "text": "d", "align": "left", "baseline": "alphabetic", "font": "Liberation Sans", "fontSize": 54, "fontWeight": "bold", "color": "black"},
   "encoding": {"x": {"datum": 0.00144, "type": "quantitative", "axis": null}, "y": {"datum": 2323, "type": "quantitative", "axis": null}}},
  {"data": {"values": [{}]}, "mark": {"type": "text", "text": "h", "align": "left", "baseline": "alphabetic", "font": "Liberation Sans", "fontSize": 54, "fontWeight": "bold", "color": "black"},
   "encoding": {"x": {"datum": 315500, "type": "quantitative", "axis": null}, "y": {"datum": 2040, "type": "quantitative", "axis": null}}},
  {"data": {"values": [{}]}, "mark": {"type": "text", "text": "CD206", "align": "center", "baseline": "middle", "angle": 270, "font": "Liberation Sans", "fontSize": 49, "fontWeight": "bold", "color": "black"},
   "encoding": {"x": {"datum": 0.02075, "type": "quantitative", "axis": null}, "y": {"datum": 1117, "type": "quantitative", "axis": null}}},
  {"data": {"values": [{}]}, "mark": {"type": "rule", "strokeWidth": 6, "strokeDash": [6, 4], "color": "black"},
   "encoding": {"x": {"datum": 0.0858, "type": "quantitative", "axis": null}, "y": {"datum": 2191, "type": "quantitative", "axis": null}, "y2": {"datum": -99}}},
  {"data": {"values": [{}]}, "mark": {"type": "text", "text": "isotype", "align": "center", "baseline": "middle", "font": "Open Sans", "fontSize": 30, "fontWeight": 600, "color": "#a0a0a0"},
   "encoding": {"x": {"datum": 4.05, "type": "quantitative", "axis": null}, "y": {"datum": 1960, "type": "quantitative", "axis": null}}},
  {"data": {"values": [{}]}, "mark": {"type": "rule", "strokeWidth": 7, "color": "#a0a0a0"},
   "encoding": {"x": {"datum": 2.82, "type": "quantitative", "axis": null}, "y": {"datum": 1846, "type": "quantitative", "axis": null}, "x2": {"datum": 3.69}, "y2": {"datum": 1495}}},
  {"data": {"values": [{}]}, "mark": {"type": "point", "shape": "M-0.55,-0.95L0,0L0.55,-0.95", "filled": false, "stroke": "#a0a0a0", "strokeWidth": 7, "size": 2500, "angle": -10, "opacity": 1},
   "encoding": {"x": {"datum": 3.69, "type": "quantitative", "axis": null}, "y": {"datum": 1495, "type": "quantitative", "axis": null}}}
 ]
},
{
 "width": 658, "height": 430,
 "data": {"values": [{"group":"P","mfi":108,"upper":114.9},{"group":"NT5","mfi":124.9,"upper":134.3},{"group":"NT20","mfi":108.3,"upper":117.2}]},
 "layer": [
  {"mark": {"type": "bar"},
   "encoding": {
    "x": {"field": "group", "type": "nominal", "sort": ["P","NT5","NT20"], "scale": {"domain": ["P","NT5","NT20"], "paddingInner": 0.31, "paddingOuter": 0.3485, "align": 0.535}, "axis": {"orient": "bottom", "title": null, "labelAngle": 0, "domainWidth": 3.5, "domainColor": "black", "tickSize": 12, "tickWidth": 3.5, "tickColor": "black", "labelFont": "Liberation Sans", "labelFontWeight": "bold", "labelFontSize": 46, "labelColor": "black", "labelPadding": 7}},
    "y": {"field": "mfi", "type": "quantitative", "scale": {"domain": [0, 200], "nice": false}, "axis": {"values": [0,50,100,150,200], "format": "d", "title": "MFI", "titleFont": "Liberation Sans", "titleFontWeight": "bold", "titleFontSize": 48, "titleColor": "black", "titlePadding": 3, "domainWidth": 3.5, "domainColor": "black", "tickSize": 8, "tickWidth": 3.5, "tickColor": "black", "labelFont": "Liberation Sans", "labelFontWeight": "bold", "labelFontSize": 40, "labelColor": "black", "labelPadding": 3, "grid": false}},
    "color": {"field": "group", "type": "nominal", "scale": {"domain": ["P","NT5","NT20"], "range": ["#000000","#a1a1a5","#808080"]}, "legend": null}
   }},
  {"mark": {"type": "rule", "strokeWidth": 4, "color": "black"},
   "encoding": {"x": {"field": "group", "type": "nominal"}, "y": {"field": "mfi", "type": "quantitative"}, "y2": {"field": "upper"}}},
  {"mark": {"type": "tick", "orient": "horizontal", "size": 70, "thickness": 6, "color": "black"},
   "encoding": {"x": {"field": "group", "type": "nominal"}, "y": {"field": "upper", "type": "quantitative"}}},
  {"data": {"values": [{"group": "NT5", "sig": "*"}]},
   "mark": {"type": "text", "font": "Liberation Sans", "fontWeight": "bold", "fontSize": 48, "baseline": "middle", "color": "black"},
   "encoding": {"x": {"field": "group", "type": "nominal"}, "y": {"datum": 150, "type": "quantitative"}, "text": {"field": "sig"}}}
 ]
}
]
}
